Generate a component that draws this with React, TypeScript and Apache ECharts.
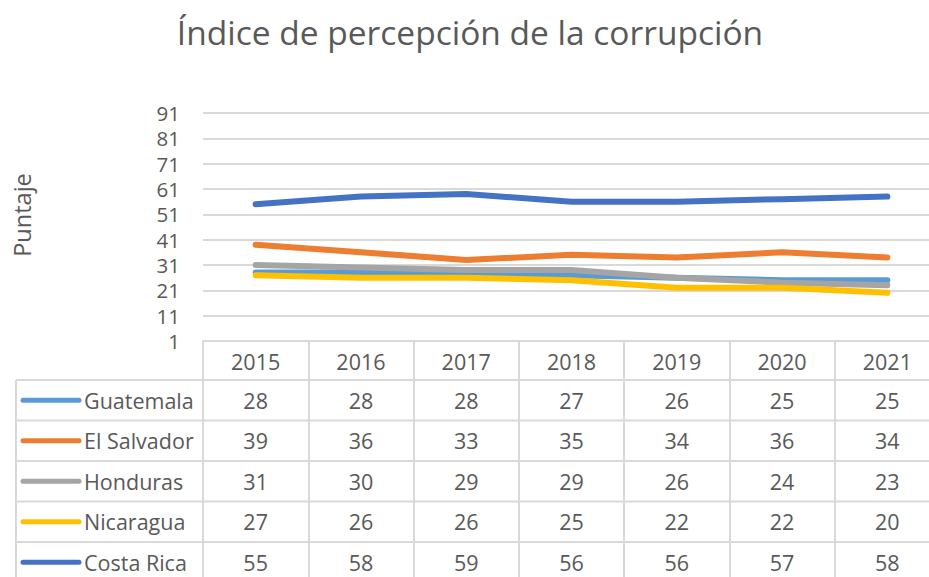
import React, { useEffect, useRef } from "react";
import * as echarts from "echarts";

const years = ["2015", "2016", "2017", "2018", "2019", "2020", "2021"];
const seriesNames = ["Guatemala", "El Salvador", "Honduras", "Nicaragua", "Costa Rica"];
const guatemala = [28, 28, 28, 27, 26, 25, 25];
const elSalvador = [39, 36, 33, 35, 34, 36, 34];
const honduras = [31, 30, 29, 29, 26, 24, 23];
const nicaragua = [27, 26, 26, 25, 22, 22, 20];
const costaRica = [55, 58, 59, 56, 56, 57, 58];
const yTicks = [1, 11, 21, 31, 41, 51, 61, 71, 81, 91];
const colors = ["#5B9BD5", "#ED7D31", "#A5A5A5", "#FFC000", "#4472C4"];

const allData = [guatemala, elSalvador, honduras, nicaragua, costaRica];

const FONT = "Open Sans";
const TEXT = "#595959";
const GRIDC = "#D9D9D9";

export default function App() {
  const ref = useRef<HTMLDivElement>(null);
  useEffect(() => {
    document.body.style.margin = "0";
    if (!ref.current) return;
    const chart = echarts.init(ref.current, null, { renderer: "svg" });
    const gridTop = 113;
    const gridBottomY = 341;
    const headerH = 39;
    const rowH = 40.5;
    chart.setOption({
      animation: false,
      backgroundColor: "#ffffff",
      textStyle: { fontFamily: FONT },
      grid: {
        left: 203,
        top: gridTop,
        right: -11,
        bottom: 577 - gridBottomY,
        containLabel: false,
        outerBoundsMode: "none",
      },
      xAxis: {
        type: "category",
        data: years,
        boundaryGap: true,
        axisLine: { show: true, lineStyle: { color: GRIDC, width: 2 } },
        axisTick: {
          show: true,
          interval: 0,
          length: 260,
          lineStyle: { color: GRIDC, width: 2 },
        },
        axisLabel: {
          interval: 0,
          margin: 20,
          verticalAlign: "middle",
          color: TEXT,
          fontSize: 21.5,
          fontFamily: FONT,
        },
      },
      yAxis: {
        type: "value",
        min: 1,
        max: 91,
        axisLine: { show: false },
        axisTick: { show: false, customValues: yTicks },
        axisLabel: {
          customValues: yTicks,
          margin: 23,
          color: TEXT,
          fontSize: 20.5,
          lineHeight: 21,
          fontFamily: FONT,
        },
        splitLine: { show: true, lineStyle: { color: GRIDC, width: 2 } },
      },
      series: allData.map((d, i) => ({
        name: seriesNames[i],
        type: "line",
        data: d,
        showSymbol: false,
        symbol: "none",
        lineStyle: { color: colors[i], width: 6, cap: "round", join: "round" },
        itemStyle: { color: colors[i] },
      })),
    });

    const graphics: any[] = [];
    graphics.push({
      type: "text",
      x: 470,
      y: 32,
      style: {
        text: "Índice de percepción de la corrupción",
        fill: TEXT,
        font: `33.5px "${FONT}"`,
        textAlign: "center",
        textVerticalAlign: "middle",
      },
    });
    graphics.push({
      type: "text",
      x: 22,
      y: 215,
      rotation: Math.PI / 2,
      style: {
        text: "Puntaje",
        fill: TEXT,
        font: `23.5px "${FONT}"`,
        textAlign: "center",
        textVerticalAlign: "middle",
      },
    });
    const tableLeft = 16;
    const rowsTop = gridBottomY + headerH;
    graphics.push({
      type: "line",
      shape: { x1: tableLeft, y1: rowsTop, x2: tableLeft, y2: 600 },
      style: { stroke: GRIDC, lineWidth: 2 },
    });
    for (let r = 0; r <= seriesNames.length; r++) {
      const y = rowsTop + r * rowH;
      graphics.push({
        type: "line",
        shape: { x1: tableLeft, y1: y, x2: 940, y2: y },
        style: { stroke: GRIDC, lineWidth: 2 },
      });
    }
    seriesNames.forEach((name, i) => {
      const cy = rowsTop + (i + 0.5) * rowH;
      graphics.push({
        type: "line",
        shape: { x1: 23, y1: cy, x2: 79, y2: cy },
        style: { stroke: colors[i], lineWidth: 5, lineCap: "round" },
      });
      graphics.push({
        type: "text",
        x: 84,
        y: cy,
        style: {
          text: name,
          fill: TEXT,
          font: `21.5px "${FONT}"`,
          textAlign: "left",
          textVerticalAlign: "middle",
        },
      });
      allData[i].forEach((v, j) => {
        const px = chart.convertToPixel({ xAxisIndex: 0 }, j) as number;
        graphics.push({
          type: "text",
          x: px,
          y: cy,
          style: {
            text: String(v),
            fill: TEXT,
            font: `21.5px "${FONT}"`,
            textAlign: "center",
            textVerticalAlign: "middle",
          },
        });
      });
    });
    chart.setOption({ graphic: graphics });
    return () => chart.dispose();
  }, []);
  return <div ref={ref} style={{ width: 929, height: 577 }} />;
}
